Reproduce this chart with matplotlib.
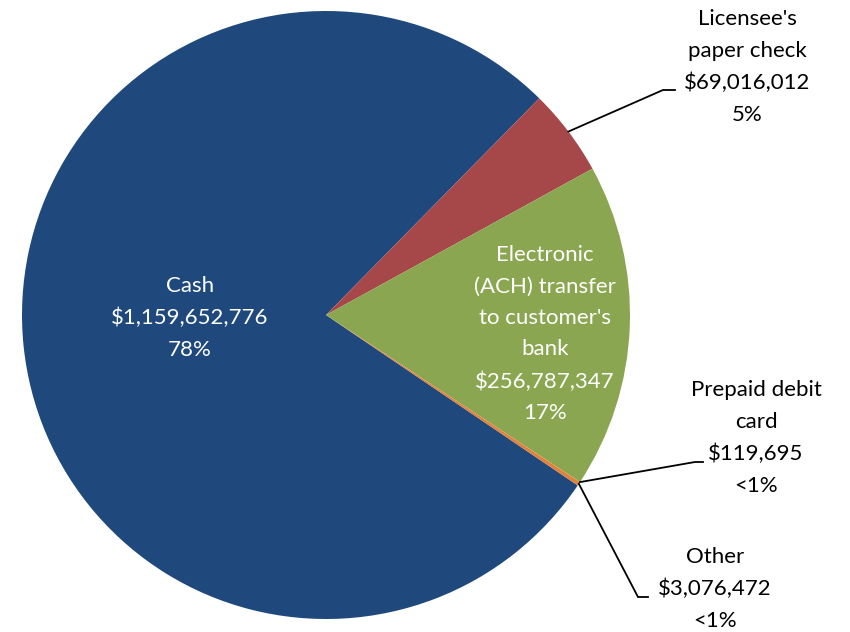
import matplotlib
matplotlib.use("Agg")
import matplotlib.pyplot as plt
import numpy as np

# ---- data ----
categories = ["Cash", "Licensee's paper check",
              "Electronic (ACH) transfer to customer's bank",
              "Prepaid debit card", "Other"]
values = [1159652776, 69016012, 256787347, 119695, 3076472]
label_texts = ["Cash", "Licensee's\npaper check",
               "Electronic\n(ACH) transfer\nto customer's\nbank",
               "Prepaid debit\ncard", "Other"]
pct_texts = ["78%", "5%", "17%", "<1%", "<1%"]
colors = ["#1F497D", "#A6484A", "#8BA650", "#E0823A", "#E0823A"]

W, H = 850, 632
plt.rcParams['font.family'] = ['Lato', 'DejaVu Sans']
fig = plt.figure(figsize=(W / 100, H / 100), dpi=100)
ax = fig.add_axes([0, 0, 1, 1])

cx, cy, R = 326, H - 315, 304
wedges, _ = ax.pie(values, colors=colors, startangle=-34.1, counterclock=False,
                   center=(cx, cy), radius=R, frame=True,
                   wedgeprops=dict(linewidth=0))
ax.set_xlim(0, W)
ax.set_ylim(0, H)
ax.set_axis_off()

def fmt(v):
    return "${:,}".format(v)

fs = 16
ls = 1.72
# inside labels
inside = {0: (190, 318), 2: (545, 334)}
for i, (x, y) in inside.items():
    ax.text(x, H - y, label_texts[i] + "\n" + fmt(values[i]) + "\n" + pct_texts[i],
            ha='center', va='center', color='white', fontsize=fs, linespacing=ls)

# outside labels with leader lines
outside = {
    1: ((747, 67), (663, 90), (675, 90)),
    3: ((756, 438), (695, 462), (703, 462)),
    4: ((715, 589), (638, 597), (648, 597)),
}
for i, ((lx, ly), (ex, ey), (fx, fy)) in outside.items():
    w = wedges[i]
    mid = np.deg2rad((w.theta1 + w.theta2) / 2)
    sx, sy = cx + R * np.cos(mid), cy + R * np.sin(mid)
    ax.plot([sx, ex, fx], [sy, H - ey, H - fy], color='black', lw=1.3,
            solid_joinstyle='miter')
    ax.text(lx, H - ly, label_texts[i] + "\n" + fmt(values[i]) + "\n" + pct_texts[i],
            ha='center', va='center', color='black', fontsize=fs, linespacing=ls)

fig.savefig("out.png", dpi=100)
